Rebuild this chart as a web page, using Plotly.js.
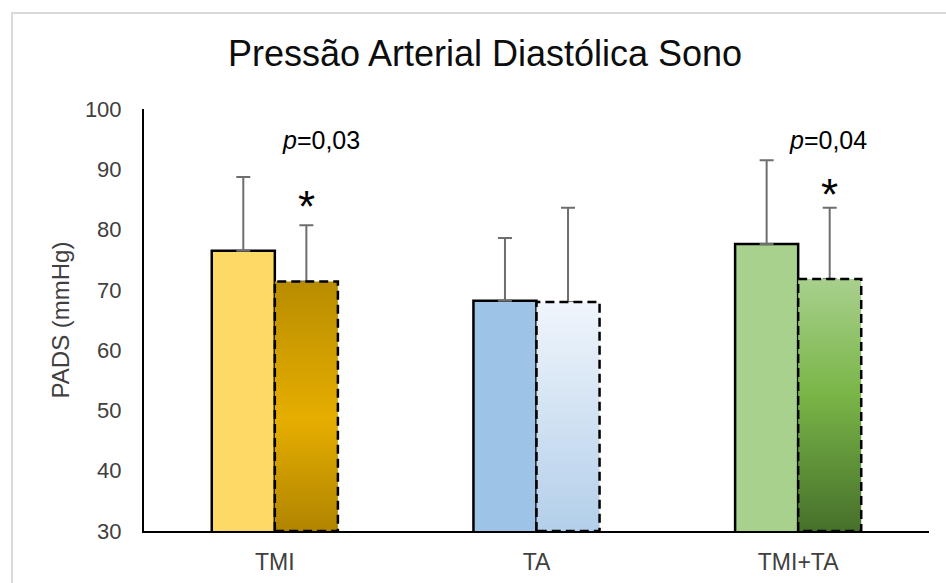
<!DOCTYPE html>
<html>
<head>
<meta charset="utf-8">
<script src="https://cdn.plot.ly/plotly-3.0.1.min.js"></script>
<style>html,body{margin:0;padding:0;background:#fff;}#chart{width:946px;height:583px;}</style>
</head>
<body>
<div id="chart"></div>
<script>
// ---- data ----
const categories = ['TMI', 'TA', 'TMI+TA'];
const preMeans = [76.5, 68.2, 77.6];
const preSD = [12.2, 10.4, 13.9];
const postMeans = [71.4, 68.0, 71.8];
const postSD = [9.3, 15.6, 11.8];
const pValues = ['0,03', '', '0,04'];
const significant = [true, false, true];
const yTickValues = [30, 40, 50, 60, 70, 80, 90, 100];

// ---- styles ----
const preColors = ['#FFD966', '#9DC3E6', '#A9D18E'];
const postGradients = [
  [[0, '#B08400'], [0.45, '#E6AE00'], [1, '#B88C00']],
  [[0, '#B3CFEA'], [1, '#F0F5FB']],
  [[0, '#46702A'], [0.55, '#7AB648'], [1, '#A8D08D']]
];
const yMin = 30, yMax = 100;
const bargap = 0.518;
const barW = (1 - bargap) / 2;
const xIdx = categories.map((c, i) => i);

const traces = [];
traces.push({
  type: 'bar', x: xIdx, y: preMeans, name: 'Pré',
  marker: {color: preColors, line: {color: '#000000', width: 2.5}},
  error_y: {type: 'data', array: preSD, symmetric: false, arrayminus: preSD.map(() => 0),
            color: '#6E6E6E', thickness: 2, width: 7},
  hoverinfo: 'y'
});
traces.push({
  type: 'bar', x: xIdx, y: postMeans, name: 'Pós',
  marker: {color: 'rgba(0,0,0,0)', line: {color: 'rgba(0,0,0,0)', width: 0}},
  error_y: {type: 'data', array: postSD, symmetric: false, arrayminus: postSD.map(() => 0),
            color: '#6E6E6E', thickness: 2, width: 7},
  hoverinfo: 'y'
});
postMeans.forEach((v, i) => {
  const x0 = i, x1 = i + barW;
  traces.push({
    type: 'scatter', mode: 'lines',
    x: [x0, x0, x1, x1, x0],
    y: [yMin, v, v, yMin, yMin],
    fill: 'toself',
    fillgradient: {type: 'vertical', colorscale: postGradients[i]},
    line: {color: '#000000', width: 2.5, dash: '9px,5px'},
    hoverinfo: 'skip', showlegend: false
  });
});

const annotations = [];
const pOffsets = [0.176, 0, 0.114];
pValues.forEach((p, i) => {
  if (p) annotations.push({
    x: i + pOffsets[i], y: 94.8, xref: 'x', yref: 'y', showarrow: false,
    text: '<i>p</i>=' + p, font: {family: 'Liberation Sans, Arial, sans-serif', size: 25, color: '#000000'},
    xanchor: 'center', yanchor: 'middle'
  });
});
const starShift = [-1.3, 0, -2.2];
significant.forEach((s, i) => {
  if (s) annotations.push({
    x: i + barW / 2, y: postMeans[i] + postSD[i] + starShift[i], xref: 'x', yref: 'y', showarrow: false,
    text: '*', font: {family: 'Liberation Sans, Arial, sans-serif', size: 44, color: '#000000'},
    xanchor: 'center', yanchor: 'bottom'
  });
});

const layout = {
  width: 946, height: 583,
  margin: {l: 144, r: 17, t: 109, b: 52},
  paper_bgcolor: '#ffffff', plot_bgcolor: '#ffffff',
  font: {family: 'Liberation Sans, Arial, sans-serif', color: '#404040'},
  showlegend: false,
  barmode: 'group', bargap: bargap, bargroupgap: 0,
  title: {text: 'Pressão Arterial Diastólica Sono', x: 485 / 946, xref: 'container', xanchor: 'center',
          y: 1 - 53 / 583, yref: 'container', yanchor: 'middle',
          font: {size: 36, color: '#0d0d0d', family: 'Liberation Sans, Arial, sans-serif'}},
  xaxis: {range: [-0.5, 2.5], tickvals: xIdx, ticktext: categories, showgrid: false, zeroline: false,
          showline: true, linecolor: '#000000', linewidth: 2, ticks: '', ticklabelstandoff: 9,
          tickfont: {size: 23, color: '#404040'}, fixedrange: true},
  yaxis: {range: [yMin, yMax], tickvals: yTickValues, showgrid: false, zeroline: false,
          showline: true, linecolor: '#000000', linewidth: 2, ticks: '', ticklabelstandoff: 16,
          tickfont: {size: 22, color: '#404040'},
          title: {text: 'PADS (mmHg)', font: {size: 24, color: '#404040'}, standoff: 8}, fixedrange: true},
  annotations: annotations,
  shapes: [{type: 'rect', xref: 'paper', yref: 'paper', x0: -132 / 785, x1: 1.05, y0: -0.2, y1: (531 - 13) / 422,
            line: {color: '#D9D9D9', width: 2}, fillcolor: 'rgba(0,0,0,0)', layer: 'below'}]
};

Plotly.newPlot('chart', traces, layout, {displayModeBar: false, staticPlot: true});
</script>
</body>
</html>
